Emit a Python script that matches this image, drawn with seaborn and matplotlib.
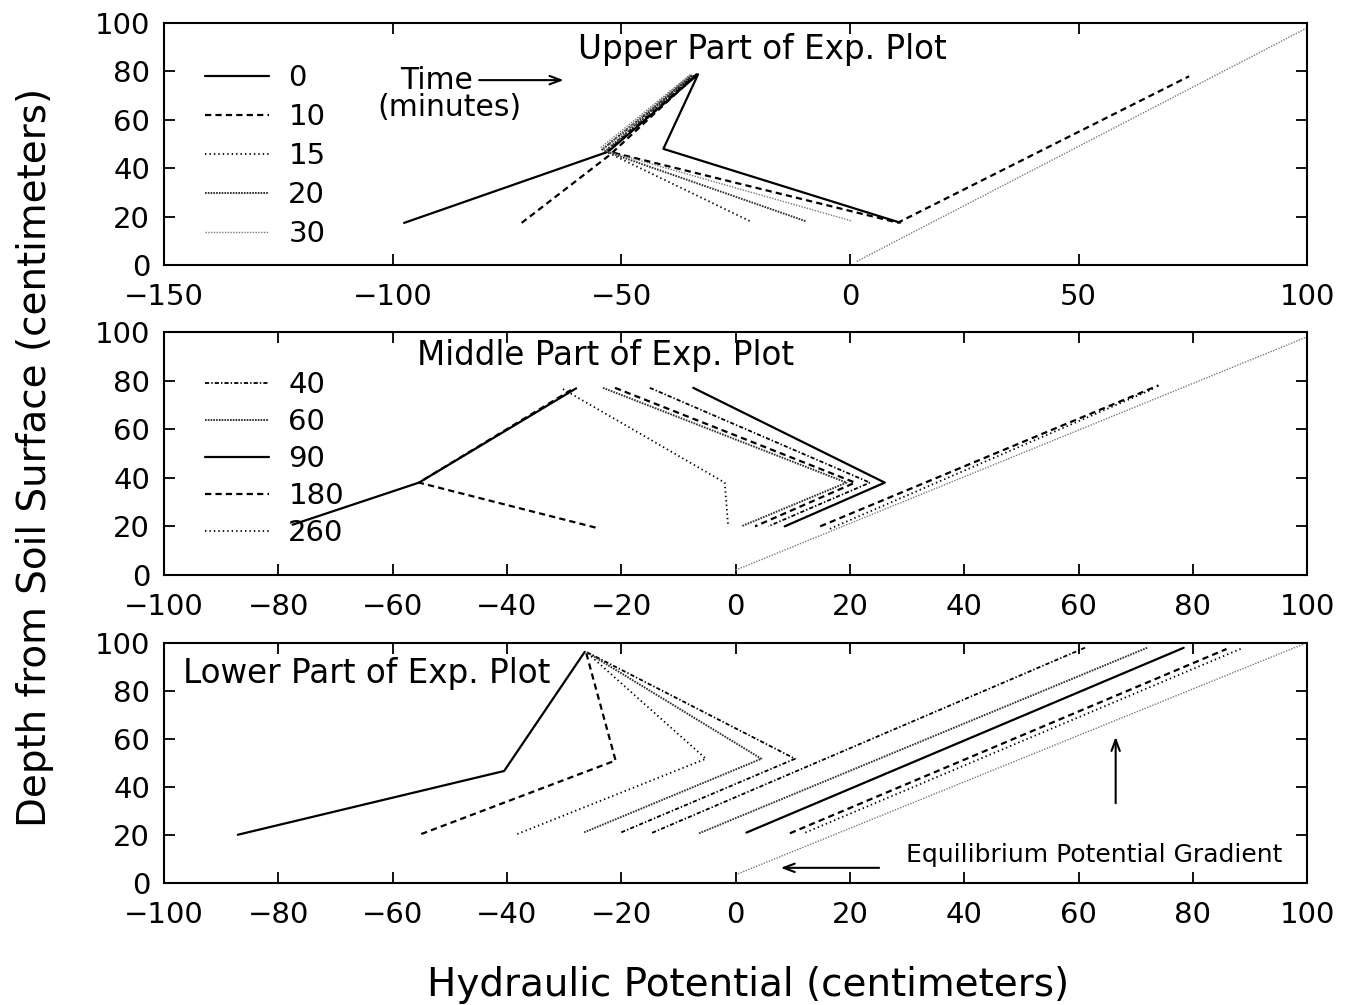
"""
토양 깊이별 수리 포텐셜 프로파일 (실험구 상/중/하부)
"""

import numpy as np
import matplotlib
matplotlib.use('Agg')
import matplotlib.pyplot as plt
import seaborn as sns


sns.set_style('ticks')
plt.rcParams['font.family'] = ['DejaVu Sans']
plt.rcParams['lines.scale_dashes'] = False
plt.rcParams['text.color'] = 'black'

nan = np.nan

# 상부 (Upper Part) - 시간(분)별 프로파일
upper_times = ['0', '10', '15', '20', '30']
upper_0_x = [-97.5, -52.9, -33.2, -40.8, 11.0]
upper_0_y = [17.4, 46.8, 78.8, 48.0, 17.5]
upper_10_x = [-71.8, -52.5, -33.5, -53.0, 10.5, 74.2]
upper_10_y = [17.4, 45.5, 78.8, 47.0, 17.5, 78.0]
upper_15_x = [-54.3, -34.0, -53.5, -21.5]
upper_15_y = [47.5, 78.5, 47.0, 17.8]
upper_20_x = [-54.0, -34.5, -53.5, -9.5]
upper_20_y = [48.0, 78.5, 47.0, 18.0]
upper_30_x = [-54.5, -35.0, -54.0, 0.4]
upper_30_y = [48.5, 78.5, 47.5, 18.2]
upper_eq_x = [1.5, 100.0]
upper_eq_y = [1.5, 98.0]

# 중부 (Middle Part)
mid_times = ['40', '60', '90', '180', '260']
mid_40_x = [-15.0, 23.5, 5.7]
mid_40_y = [77.0, 38.0, 20.0]
mid_60_x = [-23.2, 19.4, 1.0]
mid_60_y = [77.0, 38.0, 20.0]
mid_90_x = [-77.5, -55.4, -27.9, nan, -7.4, 26.1, 8.6]
mid_90_y = [20.7, 38.0, 76.8, nan, 77.0, 38.0, 20.0]
mid_180_x = [-24.5, -55.4, -28.5, nan, -21.1, 20.9, 3.4, nan, 14.8, 74.0]
mid_180_y = [19.5, 38.0, 76.5, nan, 77.0, 38.0, 20.0, nan, 20.0, 78.0]
mid_260_x = [-30.2, -1.9, -1.3, nan, 16.5, 73.0]
mid_260_y = [76.5, 38.0, 20.0, nan, 19.0, 76.5]
mid_eq_x = [0.0, 100.0]
mid_eq_y = [2.0, 98.0]

# 하부 (Lower Part)
low_40_x = [-20.0, 10.4, -26.2, nan, -14.6, 61.3]
low_40_y = [21.0, 51.7, 96.4, nan, 20.8, 98.2]
low_60_x = [-26.5, 4.5, -26.2, nan, -6.4, 72.0]
low_60_y = [21.0, 51.7, 96.4, nan, 20.6, 98.0]
low_90_x = [-87.1, -40.5, -26.4, nan, 1.9, 78.4]
low_90_y = [20.0, 46.6, 96.3, nan, 20.9, 98.0]
low_180_x = [-55.0, -21.0, -26.2, nan, 9.5, 85.9]
low_180_y = [20.3, 51.0, 96.4, nan, 20.6, 97.5]
low_260_x = [-38.2, -5.2, -26.2, nan, 12.2, 88.8]
low_260_y = [20.3, 51.7, 96.4, nan, 20.9, 98.0]
low_eq_x = [0.4, 99.4]
low_eq_y = [3.7, 99.6]

# 선 스타일
SOLID = dict(color='black', linewidth=1.6, linestyle='-')
DASH = dict(color='black', linewidth=1.6, linestyle=(0, (4.5, 3.0)))
DOT = dict(color='black', linewidth=1.3, linestyle=(0, (1.0, 2.2)))
DENSE = dict(color='#333333', linewidth=1.4, linestyle=(0, (1.2, 0.8)))
LIGHT = dict(color='#7a7a7a', linewidth=1.0, linestyle=(0, (1.0, 1.0)))
DASHDOT = dict(color='black', linewidth=1.3, linestyle=(0, (3.0, 1.5, 1.0, 1.5)))
ARROW = dict(arrowstyle='->,head_length=0.8,head_width=0.3', lw=1.5, color='black')


def draw_series(ax, xs, ys, style, label=None):
    """NaN 으로 구분된 구간을 각각 따로 그립니다."""
    xs = np.asarray(xs, float)
    ys = np.asarray(ys, float)
    seg = np.cumsum(np.isnan(xs))
    first = True
    for s in np.unique(seg):
        m = (seg == s) & ~np.isnan(xs)
        if m.sum() < 2:
            continue
        lab = label if (first and label) else '_nolegend_'
        sns.lineplot(x=xs[m], y=ys[m], sort=False, estimator=None, ax=ax,
                     legend=False, label=lab, **style)
        first = False


def style_axes(ax, xlim, xticks):
    ax.set_xlim(xlim)
    ax.set_ylim(0, 100)
    ax.set_xticks(xticks)
    ax.set_yticks(range(0, 101, 20))
    ax.tick_params(direction='in', length=8, width=1.3, top=True, right=True,
                   labelsize=21, colors='black')
    ax.tick_params(axis='x', pad=13)
    ax.tick_params(axis='y', pad=10)
    for sp in ax.spines.values():
        sp.set_linewidth(1.5)
        sp.set_color('black')
    ax.set_xlabel('')
    ax.set_ylabel('')


def add_legend(ax, top, spacing):
    leg = ax.legend(loc='upper left', bbox_to_anchor=(0.036, top), frameon=False,
                    fontsize=21, handlelength=2.2, handletextpad=0.65,
                    labelspacing=spacing, borderpad=0, borderaxespad=0)
    for txt in leg.get_texts():
        txt.set_color('black')


fig = plt.figure(figsize=(13.47, 10.05), dpi=100)
ax1 = fig.add_axes([0.1218, 0.7363, 0.8486, 0.2408])
ax2 = fig.add_axes([0.1218, 0.4279, 0.8486, 0.2418])
ax3 = fig.add_axes([0.1218, 0.1217, 0.8486, 0.2385])

# 상부
upper_data = [(upper_0_x, upper_0_y, SOLID), (upper_10_x, upper_10_y, DASH),
              (upper_15_x, upper_15_y, DOT), (upper_20_x, upper_20_y, DENSE),
              (upper_30_x, upper_30_y, LIGHT)]
for t, (xs, ys, st) in zip(upper_times, upper_data):
    draw_series(ax1, xs, ys, st, label=t)
draw_series(ax1, upper_eq_x, upper_eq_y, LIGHT)
style_axes(ax1, (-150, 100), range(-150, 101, 50))
add_legend(ax1, 0.83, 0.38)
ax1.text(-19.1, 85.0, 'Upper Part of Exp. Plot', fontsize=23.5, ha='center', va='baseline')
ax1.text(-90.5, 72.7, 'Time', fontsize=21.5, ha='center', va='baseline')
ax1.text(-87.6, 61.6, '(minutes)', fontsize=21.5, ha='center', va='baseline')
ax1.annotate('', xy=(-62.0, 76.4), xytext=(-81.7, 76.4), arrowprops=ARROW)

# 중부
mid_data = [(mid_40_x, mid_40_y, DASHDOT), (mid_60_x, mid_60_y, DENSE),
            (mid_90_x, mid_90_y, SOLID), (mid_180_x, mid_180_y, DASH),
            (mid_260_x, mid_260_y, DOT)]
for t, (xs, ys, st) in zip(mid_times, mid_data):
    draw_series(ax2, xs, ys, st, label=t)
draw_series(ax2, mid_eq_x, mid_eq_y, LIGHT)
style_axes(ax2, (-100, 100), range(-100, 101, 20))
add_legend(ax2, 0.84, 0.31)
ax2.text(-22.8, 86.3, 'Middle Part of Exp. Plot', fontsize=23.5, ha='center', va='baseline')

# 하부
low_data = [(low_40_x, low_40_y, DASHDOT), (low_60_x, low_60_y, DENSE),
            (low_90_x, low_90_y, SOLID), (low_180_x, low_180_y, DASH),
            (low_260_x, low_260_y, DOT)]
for xs, ys, st in low_data:
    draw_series(ax3, xs, ys, st)
draw_series(ax3, low_eq_x, low_eq_y, LIGHT)
style_axes(ax3, (-100, 100), range(-100, 101, 20))
ax3.text(-96.6, 83.3, 'Lower Part of Exp. Plot', fontsize=23.5, ha='left', va='baseline')
ax3.text(29.8, 8.7, 'Equilibrium Potential Gradient', fontsize=18, ha='left', va='baseline')
ax3.annotate('', xy=(7.4, 6.2), xytext=(25.6, 6.2), arrowprops=ARROW)
ax3.annotate('', xy=(66.5, 62.0), xytext=(66.5, 32.0), arrowprops=ARROW)

fig.text(0.026, 0.545, 'Depth from Soil Surface (centimeters)', fontsize=28,
         rotation=90, ha='center', va='center')
fig.text(0.555, 0.02, 'Hydraulic Potential (centimeters)', fontsize=28,
         ha='center', va='center')

fig.savefig('out.png', dpi=100)
